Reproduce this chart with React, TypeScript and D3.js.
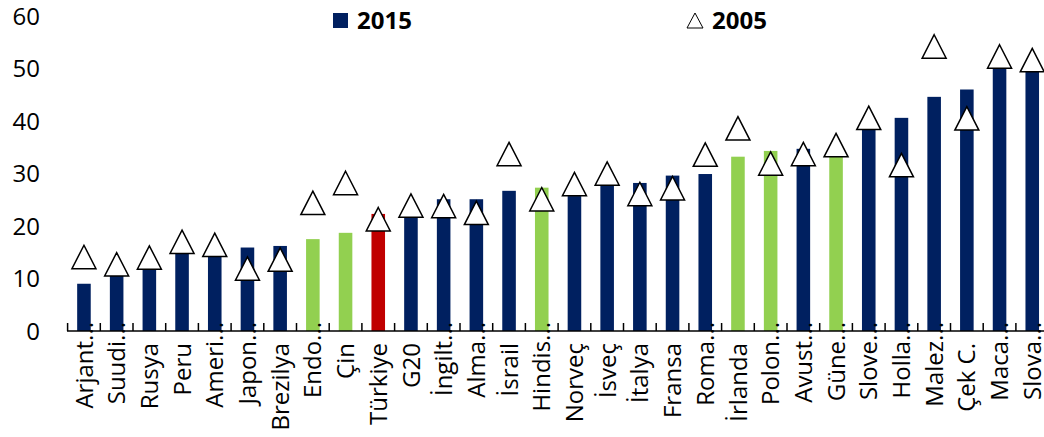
import React from "react";
import * as d3 from "d3";

const categories = [
  "Arjant...", "Suudi...", "Rusya", "Peru", "Ameri...", "Japon...", "Brezilya", "Endo...", "Çin", "Türkiye",
  "G20", "İngilt...", "Alma...", "İsrail", "Hindis...", "Norveç", "İsveç", "İtalya", "Fransa", "Roma...",
  "İrlanda", "Polon...", "Avust...", "Güne...", "Slove...", "Holla...", "Malez...", "Çek C.", "Maca...", "Slova...",
];
// group: 0 = navy, 1 = green, 2 = Türkiye (red)
const groups = [
  0, 0, 0, 0, 0, 0, 0, 1, 1, 2,
  0, 0, 0, 0, 1, 0, 0, 0, 0, 0,
  1, 1, 0, 1, 0, 0, 0, 0, 0, 0,
];
const values2015 = [
  9.0, 11.0, 11.7, 14.8, 14.2, 15.9, 16.2, 17.5, 18.7, 22.3,
  21.8, 25.1, 25.1, 26.7, 27.3, 25.7, 27.7, 28.2, 29.6, 29.9,
  33.2, 34.3, 34.7, 33.2, 38.4, 40.6, 44.6, 46.0, 50.2, 50.5,
];
const values2005 = [
  14.1, 12.7, 14.0, 17.0, 16.4, 11.9, 13.6, 24.4, 28.2, 21.3,
  23.9, 23.8, 22.5, 33.7, 25.1, 28.0, 30.0, 26.1, 27.2, 33.6,
  38.6, 31.9, 33.7, 35.4, 40.6, 31.6, 54.2, 40.5, 52.3, 51.6,
];
const yTicks = [0, 10, 20, 30, 40, 50, 60];
const seriesNames = ["2015", "2005"];

const groupColors = ["#002060", "#92D050", "#C00000"];
const FONT = "'Open Sans', 'Noto Sans', sans-serif";

export default function App() {
  const W = 1044, H = 437;
  const x = d3.scaleBand<string>().domain(categories).range([67.6, 1048.6]).paddingInner(0.585).paddingOuter(0.2925);
  const y = d3.scaleLinear().domain([0, 60]).range([331, 16]);
  const step = x.step();
  const bw = x.bandwidth();
  const triW = 12, triH = 11.7;
  const tri = `M0,${-triH}L${triW},${triH}L${-triW},${triH}Z`;

  return (
    <svg width={W} height={H} style={{ position: "absolute", left: 0, top: 0, background: "#fff" }} fontFamily={FONT}>
      {yTicks.map((t) => (
        <text key={t} x={40} y={y(t)} dy="0.36em" textAnchor="end" fontSize={24} fill="#000">{t}</text>
      ))}
      {categories.map((c, i) => (
        <rect key={c} x={x(c)} y={y(values2015[i])} width={bw} height={y(0) - y(values2015[i])} fill={groupColors[groups[i]]} />
      ))}
      <line x1={67} x2={1044} y1={y(0)} y2={y(0)} stroke="#000" strokeWidth={1.5} />
      {categories.map((c, i) => {
        const xb = (x(c) as number) - (step - bw) / 2;
        return <line key={"t" + i} x1={xb} x2={xb} y1={y(0)} y2={y(0) - 8} stroke="#000" strokeWidth={1.5} />;
      })}
      {categories.map((c) => {
        const cx = (x(c) as number) + bw / 2;
        const ey = c.endsWith("...") ? 322 : 343;
        return (
          <text key={"l" + c} transform={`translate(${cx},${ey}) rotate(-90)`} dy="0.36em" textAnchor="end" fontSize={24} fill="#000">{c}</text>
        );
      })}
      {categories.map((c, i) => (
        <path key={"m" + c} d={tri} transform={`translate(${(x(c) as number) + bw / 2},${y(values2005[i])})`} fill="#fff" stroke="#000" strokeWidth={1.5} />
      ))}
      <rect x={333} y={13} width={15} height={15} fill={groupColors[0]} />
      <text x={357} y={28.5} fontSize={24} fontWeight="bold" fill="#000">{seriesNames[0]}</text>
      <path d="M687,28L703,28L695,13Z" fill="#fff" stroke="#000" strokeWidth={1} />
      <text x={712} y={28.5} fontSize={24} fontWeight="bold" fill="#000">{seriesNames[1]}</text>
    </svg>
  );
}
